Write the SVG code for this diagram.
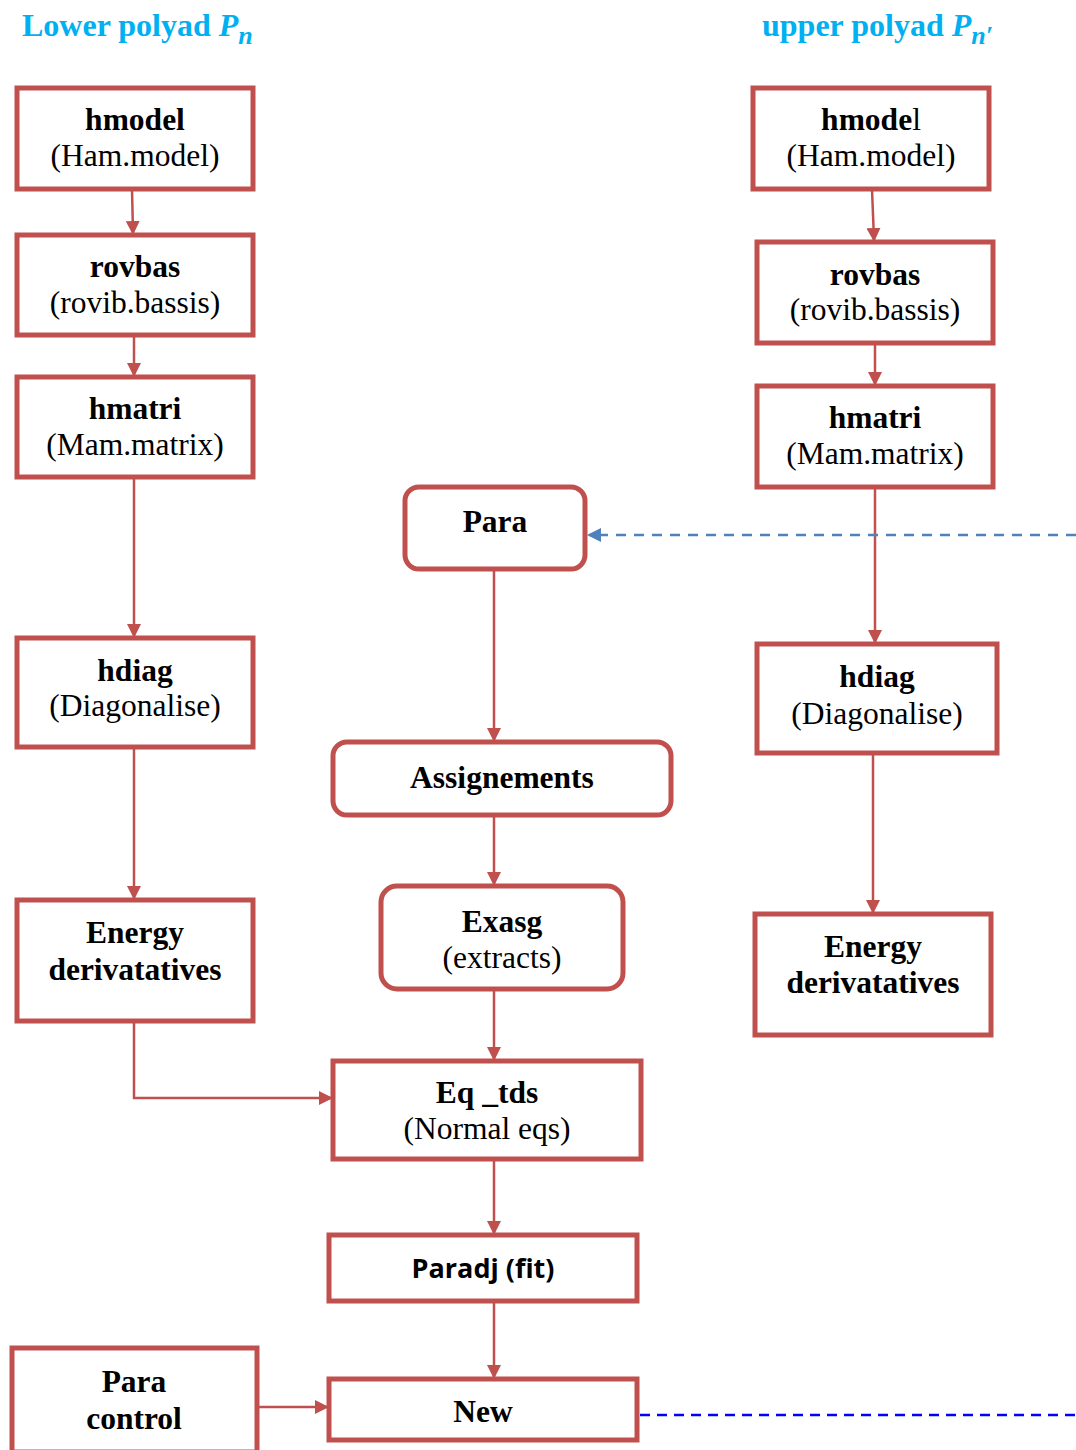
<svg xmlns="http://www.w3.org/2000/svg" width="1076" height="1450" viewBox="0 0 1076 1450">
<style>
.box{fill:#fff;stroke:#C0504D;stroke-width:5}
.t{font-family:"Liberation Serif","Times New Roman",serif;font-size:31.5px;fill:#000;text-anchor:middle}
.b{font-weight:bold}
.s{font-family:"Open Sans","Liberation Sans",sans-serif;font-weight:bold;font-size:27px;fill:#000;text-anchor:middle}
.h{font-family:"Liberation Serif","Times New Roman",serif;font-size:32px;font-weight:bold;fill:#00B0F0}
.c{fill:none;stroke:#C0504D;stroke-width:2.5}
</style>
<defs>
<marker id="ar" markerWidth="14" markerHeight="14" refX="12" refY="7" orient="auto" markerUnits="userSpaceOnUse">
<path d="M0,0 L14,7 L0,14 Z" fill="#C0504D"/>
</marker>
<marker id="ab" markerWidth="14" markerHeight="14" refX="12" refY="7" orient="auto" markerUnits="userSpaceOnUse">
<path d="M0,0 L14,7 L0,14 Z" fill="#4F81BD"/>
</marker>
</defs>
<rect width="1076" height="1450" fill="#fff"/>
<text class="h" x="22" y="36">Lower polyad <tspan font-style="italic">P</tspan><tspan font-style="italic" font-size="26" dy="8">n</tspan></text>
<text class="h" x="762" y="36">upper polyad <tspan font-style="italic">P</tspan><tspan font-style="italic" font-size="26" dy="8">n′</tspan></text>
<g id="connectors">
<path class="c" d="M132,189 L133,233" marker-end="url(#ar)"/>
<path class="c" d="M134,335 L134,375" marker-end="url(#ar)"/>
<path class="c" d="M134,477 L134,636" marker-end="url(#ar)"/>
<path class="c" d="M134,747 L134,898" marker-end="url(#ar)"/>
<path class="c" d="M134,1021 L134,1098 L331,1098" marker-end="url(#ar)"/>
<path class="c" d="M872,189 L874,240" marker-end="url(#ar)"/>
<path class="c" d="M875,343 L875,384" marker-end="url(#ar)"/>
<path class="c" d="M875,487 L875,642" marker-end="url(#ar)"/>
<path class="c" d="M873,753 L873,912" marker-end="url(#ar)"/>
<path class="c" d="M494,569 L494,740" marker-end="url(#ar)"/>
<path class="c" d="M494,815 L494,884" marker-end="url(#ar)"/>
<path class="c" d="M494,989 L494,1059" marker-end="url(#ar)"/>
<path class="c" d="M494,1159 L494,1233" marker-end="url(#ar)"/>
<path class="c" d="M494,1301 L494,1377" marker-end="url(#ar)"/>
<path class="c" d="M257,1407 L327,1407" marker-end="url(#ar)"/>
<path d="M1076,535 L589,535" fill="none" stroke="#4F81BD" stroke-width="2.5" stroke-dasharray="10,8" marker-end="url(#ab)"/>
<path d="M640,1415 L1076,1415" fill="none" stroke="#0000FF" stroke-width="2.5" stroke-dasharray="10,7"/>
</g>
<g id="l-hmodel"><rect class="box" x="17" y="88" width="236" height="101"/><text class="t b" x="135" y="130">hmodel</text><text class="t" x="135" y="166">(Ham.model)</text></g>
<g id="l-rovbas"><rect class="box" x="17" y="235" width="236" height="100"/><text class="t b" x="135" y="277">rovbas</text><text class="t" x="135" y="313">(rovib.bassis)</text></g>
<g id="l-hmatri"><rect class="box" x="17" y="377" width="236" height="100"/><text class="t b" x="135" y="419">hmatri</text><text class="t" x="135" y="455">(Mam.matrix)</text></g>
<g id="l-hdiag"><rect class="box" x="17" y="638" width="236" height="109"/><text class="t b" x="135" y="681">hdiag</text><text class="t" x="135" y="716">(Diagonalise)</text></g>
<g id="l-energy"><rect class="box" x="17" y="900" width="236" height="121"/><text class="t b" x="135" y="943">Energy</text><text class="t b" x="135" y="980">derivatatives</text></g>
<g id="paracontrol"><rect class="box" x="12" y="1348" width="245" height="104"/><text class="t b" x="134" y="1392">Para</text><text class="t b" x="134" y="1429">control</text></g>
<g id="r-hmodel"><rect class="box" x="753" y="88" width="236" height="101"/><text class="t" x="871" y="130"><tspan font-weight="bold">hmode</tspan>l</text><text class="t" x="871" y="166">(Ham.model)</text></g>
<g id="r-rovbas"><rect class="box" x="757" y="242" width="236" height="101"/><text class="t b" x="875" y="285">rovbas</text><text class="t" x="875" y="320">(rovib.bassis)</text></g>
<g id="r-hmatri"><rect class="box" x="757" y="386" width="236" height="101"/><text class="t b" x="875" y="428">hmatri</text><text class="t" x="875" y="464">(Mam.matrix)</text></g>
<g id="r-hdiag"><rect class="box" x="757" y="644" width="240" height="109"/><text class="t b" x="877" y="687">hdiag</text><text class="t" x="877" y="724">(Diagonalise)</text></g>
<g id="r-energy"><rect class="box" x="755" y="914" width="236" height="121"/><text class="t b" x="873" y="957">Energy</text><text class="t b" x="873" y="993">derivatatives</text></g>
<g id="para"><rect class="box" x="405" y="487" width="180" height="82" rx="14"/><text class="t b" x="495" y="532">Para</text></g>
<g id="assign"><rect class="box" x="333" y="742" width="338" height="73" rx="14"/><text class="t b" x="502" y="788">Assignements</text></g>
<g id="exasg"><rect class="box" x="381" y="886" width="242" height="103" rx="16"/><text class="t b" x="502" y="932">Exasg</text><text class="t" x="502" y="968">(extracts)</text></g>
<g id="eqtds"><rect class="box" x="333" y="1061" width="308" height="98"/><text class="t b" x="487" y="1103">Eq _tds</text><text class="t" x="487" y="1139">(Normal eqs)</text></g>
<g id="paradj"><rect class="box" x="329" y="1235" width="308" height="66"/><text class="s" x="483" y="1278">Paradj (fit)</text></g>
<g id="new"><rect class="box" x="329" y="1379" width="308" height="61"/><text class="t b" x="483" y="1422">New</text></g>
</svg>
